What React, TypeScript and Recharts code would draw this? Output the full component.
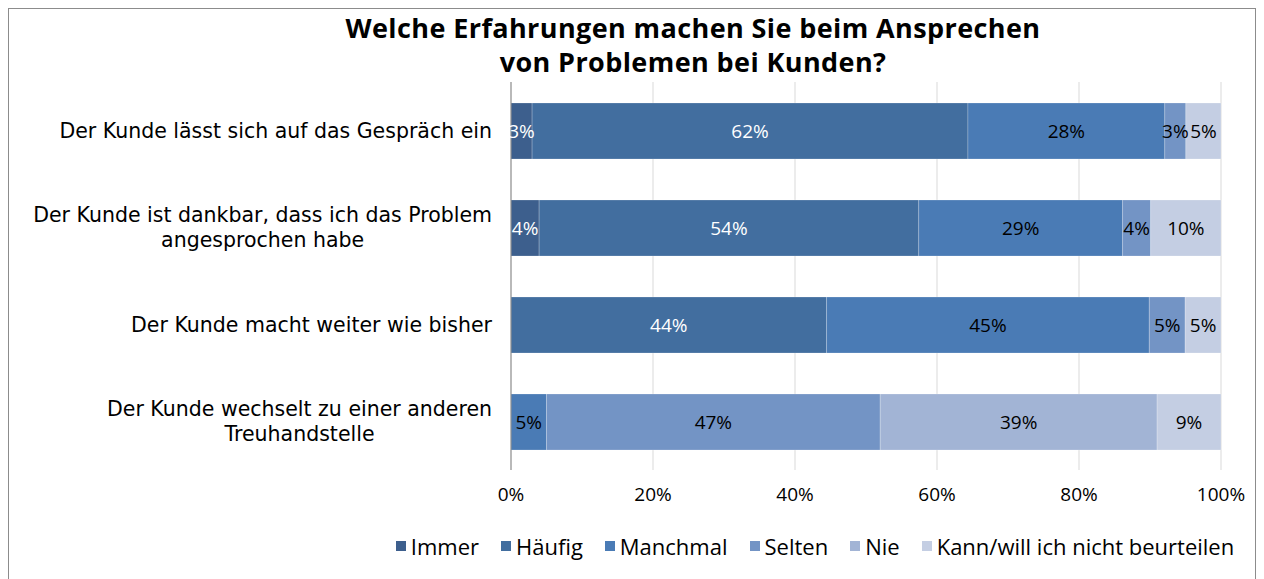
import React from 'react';
import { BarChart, Bar, XAxis, YAxis, CartesianGrid, LabelList } from 'recharts';

const categories = [
  'Der Kunde lässt sich auf das Gespräch ein',
  'Der Kunde ist dankbar, dass ich das Problem\nangesprochen habe',
  'Der Kunde macht weiter wie bisher',
  'Der Kunde wechselt zu einer anderen\nTreuhandstelle',
];
const immer = [3, 4, 0, 0];
const haeufig = [62, 54, 44, 0];
const manchmal = [28, 29, 45, 5];
const selten = [3, 4, 5, 47];
const nie = [0, 0, 0, 39];
const kann = [5, 10, 5, 9];
const xTicks = [0, 0.2, 0.4, 0.6, 0.8, 1];

const SERIES = [
  { key: 'immer', name: 'Immer', color: '#3d5f8d', text: '#ffffff' },
  { key: 'haeufig', name: 'Häufig', color: '#426e9f', text: '#ffffff' },
  { key: 'manchmal', name: 'Manchmal', color: '#4a7bb5', text: '#000000' },
  { key: 'selten', name: 'Selten', color: '#7394c5', text: '#000000' },
  { key: 'nie', name: 'Nie', color: '#a2b4d5', text: '#000000' },
  { key: 'kann', name: 'Kann/will ich nicht beurteilen', color: '#c4cee3', text: '#000000' },
];

const data = categories.map((name, i) => ({
  name,
  immer: immer[i],
  haeufig: haeufig[i],
  manchmal: manchmal[i],
  selten: selten[i],
  nie: nie[i],
  kann: kann[i],
}));

const FONT = '"Open Sans", sans-serif';
const CAT_FONT = '"DejaVu Sans", sans-serif';
const FONT_SIZE = 19;
const CAT_SIZE = 20.5;

let ctx: CanvasRenderingContext2D | null = null;
function measure(text: string): number {
  if (!ctx) ctx = document.createElement('canvas').getContext('2d');
  if (!ctx) return text.length * CAT_SIZE * 0.55;
  ctx.font = `${CAT_SIZE}px "DejaVu Sans"`;
  return ctx.measureText(text).width;
}

function CategoryTick(props: any) {
  const { x, y, payload } = props;
  const lines: string[] = String(payload.value).split('\n');
  const w = Math.max(...lines.map(measure));
  const cx = x - w / 2;
  const lh = 25;
  const y0 = y - ((lines.length - 1) * lh) / 2;
  return (
    <g>
      {lines.map((l, i) => (
        <text
          key={i}
          x={cx}
          y={y0 + i * lh}
          textAnchor="middle"
          dominantBaseline="central"
          fill="#000"
          fontSize={CAT_SIZE}
          fontFamily={CAT_FONT}
        >
          {l}
        </text>
      ))}
    </g>
  );
}

function makeLabel(color: string) {
  return (props: any) => {
    const { x, y, width, height, value } = props;
    if (!value) return null;
    return (
      <text
        x={x + width / 2}
        y={y + height / 2}
        textAnchor="middle"
        dominantBaseline="central"
        fill={color}
        fontSize={FONT_SIZE}
        fontFamily={FONT}
      >
        {`${value}%`}
      </text>
    );
  };
}

export default function App() {
  return (
    <div
      style={{
        position: 'relative',
        width: 1248,
        height: 580,
        border: '1px solid #8c8c8c',
        boxSizing: 'border-box',
        fontFamily: FONT,
        background: '#fff',
      }}
    >
      <div
        style={{
          position: 'absolute',
          left: 284,
          width: 800,
          top: 2,
          textAlign: 'center',
          fontWeight: 700,
          fontSize: 27,
          letterSpacing: 0.4,
          lineHeight: '34px',
          color: '#000',
          whiteSpace: 'nowrap',
        }}
      >
        Welche Erfahrungen machen Sie beim Ansprechen
        <br />
        von Problemen bei Kunden?
      </div>
      <BarChart
        width={1246}
        height={570}
        data={data}
        layout="vertical"
        stackOffset="expand"
        barSize={56}
        margin={{ top: 73, right: 34, bottom: 79, left: 0 }}
      >
        <CartesianGrid vertical horizontal={false} stroke="#d9d9d9" />
        <XAxis
          type="number"
          domain={[0, 1]}
          ticks={xTicks}
          tickFormatter={(v: number) => `${Math.round(v * 100)}%`}
          axisLine={false}
          tickLine={false}
          tickMargin={12}
          height={30}
          tick={{ fill: '#000', fontSize: FONT_SIZE, fontFamily: FONT }}
        />
        <YAxis
          type="category"
          dataKey="name"
          width={502}
          axisLine={{ stroke: '#868686' }}
          tickLine={false}
          tickSize={0}
          tickMargin={19}
          tick={<CategoryTick />}
        />
        {SERIES.map((s) => (
          <Bar
            key={s.key}
            dataKey={s.key}
            name={s.name}
            stackId="a"
            fill={s.color}
            stroke="#ffffff"
            strokeOpacity={0.35}
            strokeWidth={0.6}
            isAnimationActive={false}
          >
            <LabelList dataKey={s.key} content={makeLabel(s.text)} />
          </Bar>
        ))}
      </BarChart>
      <div
        style={{
          position: 'absolute',
          left: 356,
          width: 900,
          top: 522,
          display: 'flex',
          justifyContent: 'center',
          alignItems: 'center',
          fontSize: 22,
          color: '#000',
          whiteSpace: 'nowrap',
        }}
      >
        {SERIES.map((s, i) => (
          <div
            key={s.key}
            style={{ display: 'flex', alignItems: 'center', marginRight: i < SERIES.length - 1 ? 22 : 0 }}
          >
            <span style={{ width: 10, height: 10, background: s.color, display: 'inline-block', marginRight: 5 }} />
            <span>{s.name}</span>
          </div>
        ))}
      </div>
    </div>
  );
}
